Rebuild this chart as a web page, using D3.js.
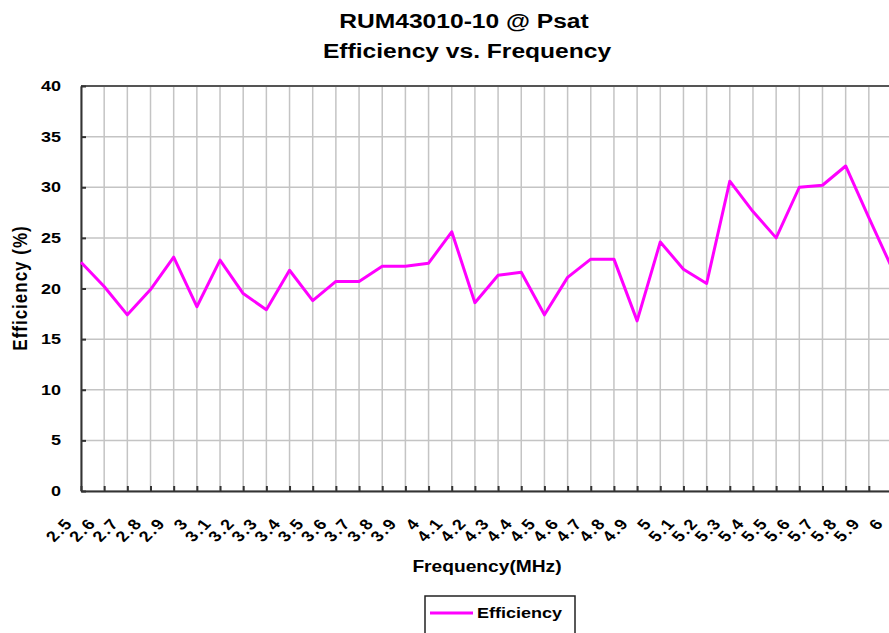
<!DOCTYPE html>
<html>
<head>
<meta charset="utf-8">
<script src="https://cdn.jsdelivr.net/npm/d3@7"></script>
<style>
body { margin: 0; background: #fff; }
svg { display: block; }
text { font-family: "Liberation Sans", Arial, sans-serif; font-weight: bold; fill: #000; }
</style>
</head>
<body>
<script>
var w = 889;
var h = 633;

// frequency categories (MHz) and efficiency readings (%)
var categories = ["2.5", "2.6", "2.7", "2.8", "2.9", "3", "3.1", "3.2", "3.3", "3.4", "3.5", "3.6",
    "3.7", "3.8", "3.9", "4", "4.1", "4.2", "4.3", "4.4", "4.5", "4.6", "4.7", "4.8", "4.9", "5",
    "5.1", "5.2", "5.3", "5.4", "5.5", "5.6", "5.7", "5.8", "5.9", "6"];
var efficiency = [22.6, 20.2, 17.4, 19.9, 23.1, 18.2, 22.8, 19.5, 17.9, 21.8, 18.8, 20.7,
    20.7, 22.2, 22.2, 22.5, 25.6, 18.6, 21.3, 21.6, 17.4, 21.1, 22.9, 22.9, 16.8, 24.6,
    21.9, 20.5, 30.6, 27.6, 25.0, 30.0, 30.2, 32.1, 27.0, 22.0];
var yTicks = [0, 5, 10, 15, 20, 25, 30, 35, 40];

var pLeft = 81, pRight = 892, pTop = 86, pBottom = 491;
var sx = 1.2; // the original picture is stretched sideways

var x = d3.scalePoint().domain(categories).range([pLeft, pRight]);
var y = d3.scaleLinear().domain([0, 40]).range([pBottom, pTop]);

var svg = d3.select("body")
    .append("svg")
    .attr("width", w)
    .attr("height", h);

// horizontal grid
svg.selectAll("line.hgrid")
    .data(yTicks)
    .enter()
    .append("line")
    .attr("class", "hgrid")
    .attr("x1", pLeft)
    .attr("x2", pRight)
    .attr("y1", function (d) { return y(d); })
    .attr("y2", function (d) { return y(d); })
    .attr("stroke", "#c4c4c4")
    .attr("stroke-width", 1.5);

// vertical grid
svg.selectAll("line.vgrid")
    .data(categories)
    .enter()
    .append("line")
    .attr("class", "vgrid")
    .attr("x1", function (d) { return x(d); })
    .attr("x2", function (d) { return x(d); })
    .attr("y1", pTop)
    .attr("y2", pBottom)
    .attr("stroke", "#c4c4c4")
    .attr("stroke-width", 1.5);

// top border
svg.append("line")
    .attr("x1", pLeft).attr("x2", pRight)
    .attr("y1", pTop).attr("y2", pTop)
    .attr("stroke", "#555")
    .attr("stroke-width", 2);

// axes
svg.append("g")
    .attr("transform", "translate(" + pLeft + ",0)")
    .call(d3.axisRight(y).tickValues(yTicks).tickSize(5).tickSizeOuter(0).tickFormat(""));
svg.append("g")
    .attr("transform", "translate(0," + pBottom + ")")
    .call(d3.axisTop(x).tickSize(5).tickSizeOuter(0).tickFormat(""));
svg.selectAll(".domain, .tick line")
    .attr("stroke", "#333")
    .attr("stroke-width", 2);

// y tick labels
svg.selectAll("text.ylab")
    .data(yTicks)
    .enter()
    .append("text")
    .attr("class", "ylab")
    .attr("text-anchor", "end")
    .attr("font-size", 15)
    .attr("transform", function (d) {
        return "translate(61," + (y(d) + 5) + ") scale(" + sx + ",1)";
    })
    .text(function (d) { return d; });

// x tick labels
svg.selectAll("text.xlab")
    .data(categories)
    .enter()
    .append("text")
    .attr("class", "xlab")
    .attr("text-anchor", "end")
    .attr("font-size", 15)
    .attr("font-weight", "normal")
    .attr("letter-spacing", 1.5)
    .attr("dy", "0.35em")
    .attr("transform", function (d) {
        return "translate(" + (x(d) - 12) + ",520) scale(" + sx + ",1) rotate(-50)";
    })
    .text(function (d) { return d; });

// series line
var line = d3.line()
    .x(function (d, i) { return x(categories[i]); })
    .y(function (d) { return y(d); });

svg.append("path")
    .datum(efficiency)
    .attr("d", line)
    .attr("fill", "none")
    .attr("stroke", "#ff00ff")
    .attr("stroke-width", 3)
    .attr("stroke-linejoin", "round");

// titles
svg.append("text")
    .attr("text-anchor", "middle")
    .attr("font-size", 20.5)
    .attr("transform", "translate(464,28) scale(" + sx + ",1)")
    .text("RUM43010-10 @ Psat");
svg.append("text")
    .attr("text-anchor", "middle")
    .attr("font-size", 20.5)
    .attr("transform", "translate(467,58) scale(" + sx + ",1)")
    .text("Efficiency vs. Frequency");

svg.append("text")
    .attr("text-anchor", "middle")
    .attr("font-size", 16)
    .attr("transform", "translate(487,572) scale(" + sx + ",1)")
    .text("Frequency(MHz)");

svg.append("text")
    .attr("text-anchor", "middle")
    .attr("font-size", 17)
    .attr("letter-spacing", 1)
    .attr("transform", "translate(27,288) scale(" + sx + ",1) rotate(-90)")
    .text("Efficiency (%)");

// legend
var legend = svg.append("g");
legend.append("rect")
    .attr("x", 425)
    .attr("y", 596)
    .attr("width", 150)
    .attr("height", 45)
    .attr("fill", "#fff")
    .attr("stroke", "#222")
    .attr("stroke-width", 1.5);
legend.append("line")
    .attr("x1", 430).attr("x2", 473)
    .attr("y1", 613).attr("y2", 613)
    .attr("stroke", "#ff00ff")
    .attr("stroke-width", 3);
legend.append("text")
    .attr("font-size", 15)
    .attr("transform", "translate(477,618) scale(" + sx + ",1)")
    .text("Efficiency");
</script>
</body>
</html>
